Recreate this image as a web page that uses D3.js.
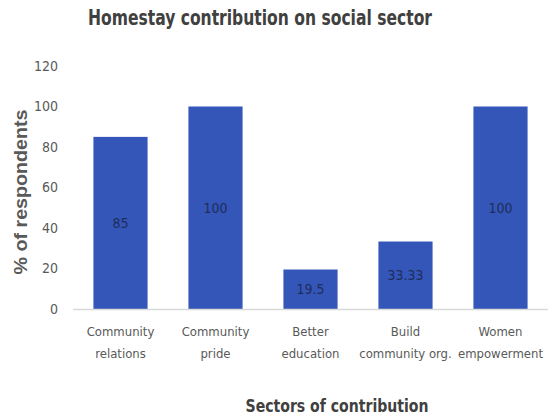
<!DOCTYPE html>
<html><head><meta charset="utf-8">
<script src="https://cdn.jsdelivr.net/npm/d3@7"></script>
<style>body{margin:0;background:#fff}</style>
</head><body>
<svg id="c" width="556" height="420"></svg>
<script>
const categories = [["Community","relations"],["Community","pride"],["Better","education"],["Build","community org."],["Women","empowerment"]];
const values = [85, 100, 19.5, 33.33, 100];
const valueLabels = ["85","100","19.5","33.33","100"];
const yTicks = [0,20,40,60,80,100,120];

const font = "'DejaVu Sans Condensed','Open Sans',sans-serif";
const svg = d3.select("#c");
const x = d3.scaleBand().domain(d3.range(values.length)).range([73,548]).paddingInner(0.43).paddingOuter(0.215);
const y = d3.scaleLinear().domain([0,120]).range([309,66]);

svg.append("text").attr("x",260).attr("y",25).attr("text-anchor","middle")
  .attr("font-family",font).attr("font-weight","bold").attr("font-size",21).attr("fill","#404040")
  .attr("textLength",344).attr("lengthAdjust","spacingAndGlyphs")
  .text("Homestay contribution on social sector");

const ya = svg.append("g").attr("transform","translate(73,0)")
  .call(d3.axisLeft(y).tickValues(yTicks).tickSize(0).tickPadding(15));
ya.select(".domain").remove();
ya.selectAll("text").attr("font-family",font).attr("font-size",14).attr("fill","#595959");

svg.selectAll("rect.bar").data(values).enter().append("rect").attr("class","bar")
  .attr("x",(d,i)=>x(i)).attr("width",x.bandwidth())
  .attr("y",d=>y(d)).attr("height",d=>y(0)-y(d)).attr("fill","#3356b8");

svg.append("line").attr("x1",73).attr("x2",548).attr("y1",y(0)+0.5).attr("y2",y(0)+0.5)
  .attr("stroke","#d9d9d9").attr("stroke-width",1.5);

svg.selectAll("text.val").data(values).enter().append("text").attr("class","val")
  .attr("x",(d,i)=>x(i)+x.bandwidth()/2).attr("y",d=>(y(d)+y(0))/2+5)
  .attr("text-anchor","middle").attr("font-family",font).attr("font-size",14).attr("fill","#1f2d5c")
  .text((d,i)=>valueLabels[i]);

const xl = svg.selectAll("text.cat").data(categories).enter().append("text").attr("class","cat")
  .attr("text-anchor","middle").attr("font-family",font).attr("font-size",13).attr("fill","#595959");
xl.each(function(d,i){
  const t=d3.select(this);
  d.forEach((s,j)=>t.append("tspan").attr("x",x(i)+x.bandwidth()/2).attr("y",336+j*22).text(s));
});

svg.append("text").attr("transform","translate(27,192) rotate(-90)").attr("text-anchor","middle")
  .attr("font-family","'Liberation Sans','Arial',sans-serif").attr("font-weight","bold").attr("font-size",19).attr("fill","#595959")
  .attr("textLength",165).attr("lengthAdjust","spacingAndGlyphs")
  .text("% of respondents");

svg.append("text").attr("x",337).attr("y",412).attr("text-anchor","middle")
  .attr("font-family",font).attr("font-weight","bold").attr("font-size",18).attr("fill","#404040")
  .attr("textLength",183).attr("lengthAdjust","spacingAndGlyphs")
  .text("Sectors of contribution");
</script>
</body></html>
